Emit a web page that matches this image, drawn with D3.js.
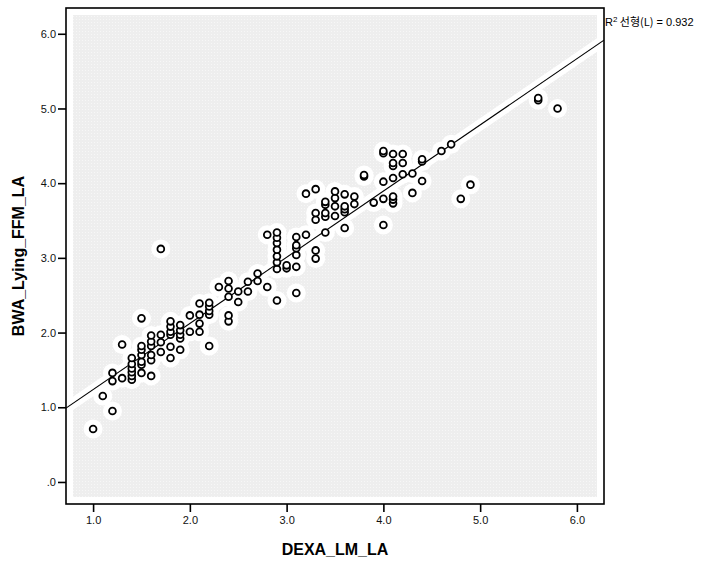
<!DOCTYPE html>
<html>
<head>
<meta charset="utf-8">
<script src="https://cdn.jsdelivr.net/npm/d3@7"></script>
<style>
  html, body { margin: 0; padding: 0; background: #fff; }
  svg { display: block; font-family: "Liberation Sans", Arial, sans-serif; }
</style>
</head>
<body>
<svg id="chart" width="727" height="566"></svg>
<script>
// DEXA lean mass (x) vs BWA lying FFM (y)
const dexaLM = [
  1.0, 1.1, 1.2, 1.2, 1.2, 1.3, 1.3,
  1.4, 1.4, 1.4, 1.4, 1.4, 1.4,
  1.5, 1.5, 1.5, 1.5, 1.5, 1.5, 1.5,
  1.6, 1.6, 1.6, 1.6, 1.6, 1.6,
  1.7, 1.7, 1.7, 1.7,
  1.8, 1.8, 1.8, 1.8, 1.8, 1.8,
  1.9, 1.9, 1.9, 1.9, 1.9,
  2.0, 2.0, 2.1, 2.1, 2.1, 2.1,
  2.2, 2.2, 2.2, 2.2, 2.2, 2.3,
  2.4, 2.4, 2.4, 2.4, 2.4,
  2.5, 2.5, 2.6, 2.6, 2.7, 2.7, 2.8, 2.8,
  2.9, 2.9, 2.9, 2.9, 2.9, 2.9, 2.9, 2.9,
  3.0, 3.0, 3.1, 3.1, 3.1, 3.1, 3.1, 3.1,
  3.2, 3.2, 3.3, 3.3, 3.3, 3.3, 3.3,
  3.4, 3.4, 3.4, 3.4, 3.4,
  3.5, 3.5, 3.5, 3.5,
  3.6, 3.6, 3.6, 3.6, 3.6,
  3.7, 3.7, 3.8, 3.8, 3.9,
  4.0, 4.0, 4.0, 4.0, 4.0,
  4.1, 4.1, 4.1, 4.1, 4.1, 4.1, 4.1,
  4.2, 4.2, 4.2, 4.3, 4.3, 4.4, 4.4, 4.4,
  4.6, 4.7, 4.8, 4.9, 5.6, 5.6, 5.8
];
const bwaFFM = [
  0.71, 1.15, 0.95, 1.35, 1.46, 1.39, 1.84,
  1.37, 1.42, 1.47, 1.52, 1.58, 1.66,
  1.46, 1.57, 1.61, 1.70, 1.77, 1.82, 2.19,
  1.42, 1.63, 1.70, 1.82, 1.88, 1.96,
  1.74, 1.87, 1.97, 3.12,
  1.66, 1.81, 1.97, 2.01, 2.08, 2.15,
  1.77, 1.92, 1.97, 2.03, 2.10,
  2.01, 2.23, 2.01, 2.12, 2.24, 2.39,
  1.82, 2.24, 2.29, 2.35, 2.40, 2.61,
  2.15, 2.23, 2.48, 2.59, 2.69,
  2.41, 2.55, 2.55, 2.68, 2.69, 2.79, 2.61, 3.31,
  2.43, 2.85, 2.94, 3.02, 3.11, 3.20, 3.27, 3.34,
  2.86, 2.90, 2.53, 2.88, 3.04, 3.13, 3.17, 3.28,
  3.31, 3.86, 2.99, 3.10, 3.51, 3.60, 3.92,
  3.34, 3.55, 3.60, 3.71, 3.75,
  3.56, 3.69, 3.80, 3.89,
  3.40, 3.61, 3.65, 3.69, 3.85,
  3.72, 3.82, 4.09, 4.11, 3.74,
  3.44, 3.79, 4.02, 4.40, 4.43,
  3.73, 3.78, 3.82, 4.07, 4.23, 4.27, 4.39,
  4.12, 4.27, 4.39, 3.87, 4.13, 4.03, 4.29, 4.32,
  4.43, 4.52, 3.79, 3.98, 5.11, 5.14, 5.00
];
const xTicks = [1, 2, 3, 4, 5, 6];
const yTicks = [0, 1, 2, 3, 4, 5, 6];
// linear fit shown in the chart
const fitIntercept = 0.35;
const fitSlope = 0.886;
const fitLabel = "0.932";

const svg = d3.select('#chart');
const frame = { left: 66, right: 604, top: 8, bottom: 504 };
const inset = 7;

const x = d3.scaleLinear().domain([0.72, 6.28]).range([frame.left, frame.right]);
const y = d3.scaleLinear().domain([-0.295, 6.345]).range([frame.bottom, frame.top]);

const points = dexaLM.map((d, i) => ({ x: d, y: bwaFFM[i] }));

// dotted grey plot background
const defs = svg.append('defs');
const pat = defs.append('pattern')
  .attr('id', 'dots')
  .attr('width', 3).attr('height', 3)
  .attr('patternUnits', 'userSpaceOnUse');
pat.append('rect').attr('width', 3).attr('height', 3).attr('fill', '#eeeeee');
pat.append('rect').attr('x', 1).attr('y', 1).attr('width', 1).attr('height', 1).attr('fill', '#f7f7f7');

defs.append('clipPath').attr('id', 'inner')
  .append('rect')
  .attr('x', frame.left + inset).attr('y', frame.top + inset)
  .attr('width', frame.right - frame.left - 2 * inset)
  .attr('height', frame.bottom - frame.top - 2 * inset);

defs.append('clipPath').attr('id', 'frameClip')
  .append('rect')
  .attr('x', frame.left).attr('y', frame.top)
  .attr('width', frame.right - frame.left)
  .attr('height', frame.bottom - frame.top);

svg.append('rect')
  .attr('x', frame.left + inset).attr('y', frame.top + inset)
  .attr('width', frame.right - frame.left - 2 * inset)
  .attr('height', frame.bottom - frame.top - 2 * inset)
  .attr('fill', 'url(#dots)');

const fitLine = d3.line()
  .x(d => x(d))
  .y(d => y(fitIntercept + fitSlope * d));
const fitDomain = x.domain();

// white halos
const halo = svg.append('g').attr('clip-path', 'url(#inner)');
halo.append('path')
  .datum(fitDomain)
  .attr('d', fitLine)
  .attr('stroke', '#fff')
  .attr('stroke-width', 11)
  .attr('fill', 'none');
halo.selectAll('circle')
  .data(points)
  .enter()
  .append('circle')
  .attr('cx', d => x(d.x))
  .attr('cy', d => y(d.y))
  .attr('r', 9.5)
  .attr('fill', '#fff');

// regression line
svg.append('path')
  .datum(fitDomain)
  .attr('clip-path', 'url(#frameClip)')
  .attr('d', fitLine)
  .attr('stroke', '#000')
  .attr('stroke-width', 1.1)
  .attr('fill', 'none');

// markers
svg.append('g')
  .selectAll('circle')
  .data(points)
  .enter()
  .append('circle')
  .attr('cx', d => x(d.x))
  .attr('cy', d => y(d.y))
  .attr('r', 3.4)
  .attr('fill', '#fff')
  .attr('stroke', '#000')
  .attr('stroke-width', 1.8);

// frame
svg.append('rect')
  .attr('x', frame.left).attr('y', frame.top)
  .attr('width', frame.right - frame.left)
  .attr('height', frame.bottom - frame.top)
  .attr('fill', 'none')
  .attr('stroke', '#000')
  .attr('stroke-width', 1.6);

const fmt = d => d === 0 ? '.0' : d3.format('.1f')(d);

const xAxis = svg.append('g')
  .attr('transform', `translate(0,${frame.bottom})`)
  .call(d3.axisBottom(x).tickValues(xTicks).tickFormat(fmt).tickSize(8).tickPadding(4));
const yAxis = svg.append('g')
  .attr('transform', `translate(${frame.left},0)`)
  .call(d3.axisLeft(y).tickValues(yTicks).tickFormat(fmt).tickSize(8).tickPadding(2));

[xAxis, yAxis].forEach(ax => {
  ax.select('.domain').remove();
  ax.selectAll('.tick line').attr('stroke', '#000').attr('stroke-width', 1.6);
  ax.selectAll('.tick text')
    .attr('fill', '#111')
    .style('font-family', '"Liberation Sans", Arial, sans-serif')
    .style('font-size', '11px');
});

// axis titles
svg.append('text')
  .attr('x', (frame.left + frame.right) / 2)
  .attr('y', 555)
  .attr('text-anchor', 'middle')
  .style('font-weight', 'bold')
  .style('font-size', '16px')
  .text('DEXA_LM_LA');

svg.append('text')
  .attr('transform', `translate(24,${(frame.top + frame.bottom) / 2}) rotate(-90)`)
  .attr('text-anchor', 'middle')
  .style('font-weight', 'bold')
  .style('font-size', '16px')
  .text('BWA_Lying_FFM_LA');

// fit label
const lab = svg.append('text')
  .attr('x', frame.right + 1)
  .attr('y', 26)
  .style('font-size', '11px')
  .style('font-family', '"Liberation Sans", "Noto Sans CJK KR", sans-serif');
lab.append('tspan').text('R');
lab.append('tspan').attr('dy', -4).style('font-size', '8px').text('2');
lab.append('tspan').attr('dy', 4).style('font-family', '"Noto Sans CJK KR", sans-serif').text(' 선형(L)');
lab.append('tspan').text(' = ' + fitLabel);
</script>
</body>
</html>
